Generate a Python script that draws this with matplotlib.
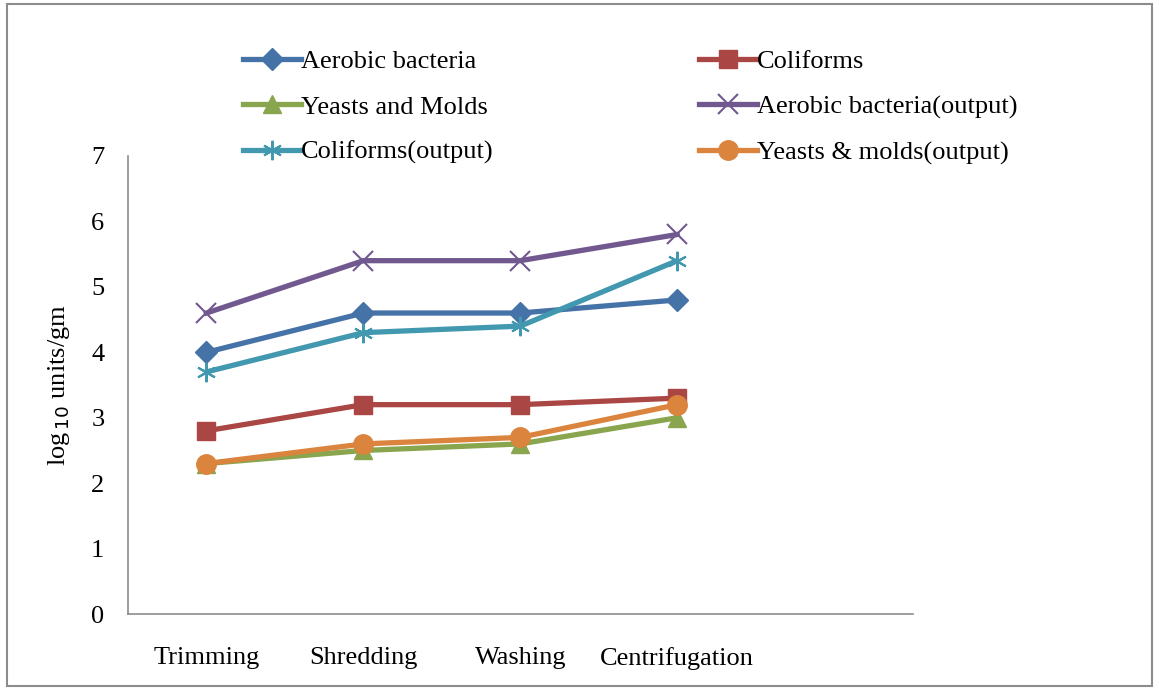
import matplotlib
matplotlib.use("Agg")
import matplotlib.pyplot as plt
from matplotlib.patches import Rectangle

plt.rcParams['font.family'] = ['Liberation Serif', 'DejaVu Serif']

stages = ["Trimming", "Shredding", "Washing", "Centrifugation"]

aerobic = [4.0, 4.6, 4.6, 4.8]
coliforms = [2.8, 3.2, 3.2, 3.3]
yeasts = [2.3, 2.5, 2.6, 3.0]
aerobic_out = [4.6, 5.4, 5.4, 5.8]
coliforms_out = [3.7, 4.3, 4.4, 5.4]
yeasts_out = [2.3, 2.6, 2.7, 3.2]

x = list(range(len(stages)))

fig = plt.figure(figsize=(11.59, 6.9), dpi=100)
ax = fig.add_axes([0.1104, 0.110, 0.677, 0.664])

# figure border
fig.patches.append(Rectangle((0.006, 0.006), 0.988, 0.988, transform=fig.transFigure,
                             fill=False, edgecolor="#8c8c8c", linewidth=1.5))

lw = 3.8
h1, = ax.plot(x, aerobic, color="#4572A7", marker="D", markersize=11, lw=lw, label="Aerobic bacteria")
h2, = ax.plot(x, coliforms, color="#AA4643", marker="s", markersize=13, lw=lw, label="Coliforms")
h3, = ax.plot(x, yeasts, color="#89A54E", marker="^", markersize=13, lw=lw, label="Yeasts and Molds")
h4, = ax.plot(x, aerobic_out, color="#71588F", marker="x", markersize=14, mew=1.5, lw=lw,
              label="Aerobic bacteria(output)")
h5, = ax.plot(x, coliforms_out, color="#4198AF", marker=(6, 2, 0), markersize=14, mew=1.5, lw=lw,
              label="Coliforms(output)")
h6, = ax.plot(x, yeasts_out, color="#DB843D", marker="o", markersize=14, lw=lw,
              label="Yeasts & molds(output)")

ax.set_xlim(-0.5, 4.5)
ax.set_ylim(0, 7)
ax.set_xticks(x)
ax.set_xticklabels(stages, fontsize=19)
ax.set_yticks(range(8))
ax.tick_params(axis="y", labelsize=19, length=0, pad=17)
ax.tick_params(axis="x", length=0, pad=24)
for s in ["top", "right"]:
    ax.spines[s].set_visible(False)
for s in ["left", "bottom"]:
    ax.spines[s].set_color("#8c8c8c")
    ax.spines[s].set_linewidth(1.2)

ax.set_ylabel(r"log$_{\,10}$ units/gm", fontsize=19, labelpad=14)

# row-major order like the original legend
fig.legend(handles=[h1, h3, h5, h2, h4, h6], ncol=2, loc="upper left",
           bbox_to_anchor=(0.198, 0.947), frameon=False, fontsize=19, borderpad=0,
           handlelength=2.2, handletextpad=0.0, columnspacing=7.8, labelspacing=0.83)

fig.savefig("out.png", dpi=100)
